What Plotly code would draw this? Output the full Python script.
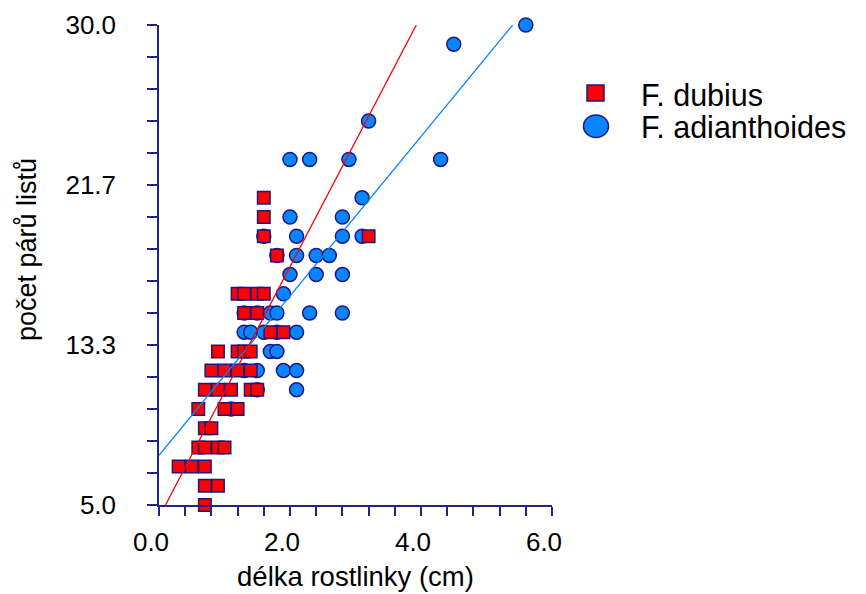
import plotly.graph_objects as go

# ---------------- data ----------------
# F. dubius (red squares): plant length (cm) vs number of leaf pairs
dubius_x = [0.7,
            0.7, 0.9,
            0.3, 0.5, 0.7,
            0.6, 0.7, 0.9, 1.0,
            0.7, 0.8,
            0.6, 1.0, 1.2,
            0.7, 0.9, 1.1, 1.4, 1.5,
            0.8, 1.0, 1.2, 1.4,
            0.9, 1.2, 1.3, 1.4,
            1.7, 1.9,
            1.3, 1.5,
            1.2, 1.3, 1.5, 1.6,
            1.8,
            1.6, 3.2,
            1.6,
            1.6]
dubius_y = [5,
            6, 6,
            7, 7, 7,
            8, 8, 8, 8,
            9, 9,
            10, 10, 10,
            11, 11, 11, 11, 11,
            12, 12, 12, 12,
            13, 13, 13, 13,
            14, 14,
            15, 15,
            16, 16, 16, 16,
            18,
            19, 19,
            20,
            21]

# F. adianthoides (blue circles)
adian_x = [1.1,
           1.5, 2.1,
           1.3, 1.5, 1.9, 2.1,
           1.7, 1.8,
           1.3, 1.4, 1.6, 1.8, 2.1,
           1.3, 1.5, 1.7, 1.8, 2.3, 2.8,
           1.9,
           2.0, 2.4, 2.8,
           1.8, 2.1, 2.4, 2.6,
           1.6, 2.1, 2.8, 3.1,
           2.0, 2.8,
           3.1,
           2.0, 2.3, 2.9, 4.3,
           3.2,
           4.5,
           5.6]
adian_y = [10,
           11, 11,
           12, 12, 12, 12,
           13, 13,
           14, 14, 14, 14, 14,
           15, 15, 15, 15, 15, 15,
           16,
           17, 17, 17,
           18, 18, 18, 18,
           19, 19, 19, 19,
           20, 20,
           21,
           23, 23, 23, 23,
           25,
           29,
           30]

# fitted regression lines: (intercept, slope)
dubius_fit = (4.35, 6.53)
adian_fit = (7.59, 4.15)

series_names = ["F. dubius", "F. adianthoides"]

x_range = [0, 6]
y_range = [5, 30]
x_tick_vals = [0, 2, 4, 6]
x_tick_text = ["0.0", "2.0", "4.0", "6.0"]
y_tick_vals = [5, 5 + 25 / 3, 5 + 50 / 3, 30]
y_tick_text = ["5.0", "13.3", "21.7", "30.0"]

x_title = "délka rostlinky (cm)"
y_title = "počet párů listů"

# ---------------- styles ----------------
RED = "#FF0000"
BLUE = "#0A84FF"
EDGE = "#1a1a82"
AXIS = "#23238a"
FONT = "Liberation Sans, Arial, sans-serif"

W, H = 866, 594
L, R, T, B = 159, 314, 25, 89
PW = W - L - R
PH = H - T - B


def fit_segment(fit):
    a, b = fit
    x_lo = max(x_range[0], (y_range[0] - a) / b)
    x_hi = min(x_range[1], (y_range[1] - a) / b)
    return [x_lo, x_hi], [a + b * x_lo, a + b * x_hi]


fig = go.Figure()

fig.add_trace(go.Scatter(
    x=adian_x, y=adian_y, mode="markers", name=series_names[1],
    marker=dict(symbol="circle", size=14, color=BLUE,
                line=dict(color=EDGE, width=1.5)),
    cliponaxis=False))

fig.add_trace(go.Scatter(
    x=dubius_x, y=dubius_y, mode="markers", name=series_names[0],
    marker=dict(symbol="square", size=12.5, color=RED,
                line=dict(color=EDGE, width=1.5)),
    cliponaxis=False))

lx, ly = fit_segment(adian_fit)
fig.add_trace(go.Scatter(x=lx, y=ly, mode="lines", line=dict(color=BLUE, width=1.3),
                         hoverinfo="skip"))
lx, ly = fit_segment(dubius_fit)
fig.add_trace(go.Scatter(x=lx, y=ly, mode="lines", line=dict(color=RED, width=1.3),
                         hoverinfo="skip"))

axis_common = dict(
    ticks="outside", tickwidth=1.5, tickcolor=AXIS,
    showline=True, linecolor=AXIS, linewidth=1.5,
    showgrid=False, zeroline=False, automargin=False,
    tickfont=dict(size=26, family=FONT, color="black"),
)

fig.update_xaxes(
    range=x_range, tickmode="array", tickvals=x_tick_vals, ticktext=x_tick_text,
    ticklen=9, ticklabelshift=-8, ticklabelstandoff=4,
    minor=dict(dtick=0.4, tick0=0, ticks="outside", ticklen=9, tickwidth=1.5,
               tickcolor=AXIS, showgrid=False),
    title=dict(text=x_title, font=dict(size=27.5, family=FONT, color="black"), standoff=11),
    **axis_common)

fig.update_yaxes(
    range=y_range, tickmode="array", tickvals=y_tick_vals, ticktext=y_tick_text,
    ticklen=10, ticklabelstandoff=26,
    minor=dict(dtick=25 / 15, tick0=5, ticks="outside", ticklen=10, tickwidth=1.5,
               tickcolor=AXIS, showgrid=False),
    **axis_common)


# ---------------- manual legend (large symbols as in the original) ----------------
def px_x(px):
    return (px - L) / PW


def px_y(py):
    return (H - B - py) / PH


shapes = [
    dict(type="rect", xref="paper", yref="paper",
         x0=px_x(587), x1=px_x(604), y0=px_y(101), y1=px_y(85),
         fillcolor=RED, line=dict(color=EDGE, width=1.5)),
    dict(type="circle", xref="paper", yref="paper",
         x0=px_x(583.5), x1=px_x(608.5), y0=px_y(137.5), y1=px_y(115),
         fillcolor=BLUE, line=dict(color=EDGE, width=1.5)),
]
annotations = [
    dict(text=series_names[0], xref="paper", yref="paper", x=px_x(639), y=px_y(95),
         xanchor="left", yanchor="middle", showarrow=False,
         font=dict(size=30.5, family=FONT, color="black")),
    dict(text=series_names[1], xref="paper", yref="paper", x=px_x(639), y=px_y(127.5),
         xanchor="left", yanchor="middle", showarrow=False,
         font=dict(size=30.5, family=FONT, color="black")),
    # y-axis title (placed as in the original, slightly above the axis centre)
    dict(text=y_title, xref="paper", yref="paper", x=px_x(27), y=px_y(250),
         xanchor="center", yanchor="middle", textangle=-90, showarrow=False,
         font=dict(size=27, family=FONT, color="black")),
]

fig.update_layout(
    width=W, height=H,
    margin=dict(l=L, r=R, t=T, b=B, autoexpand=False),
    plot_bgcolor="white", paper_bgcolor="white",
    showlegend=False,
    font=dict(family=FONT, color="black"),
    shapes=shapes, annotations=annotations,
)

fig.write_html("out.html")
